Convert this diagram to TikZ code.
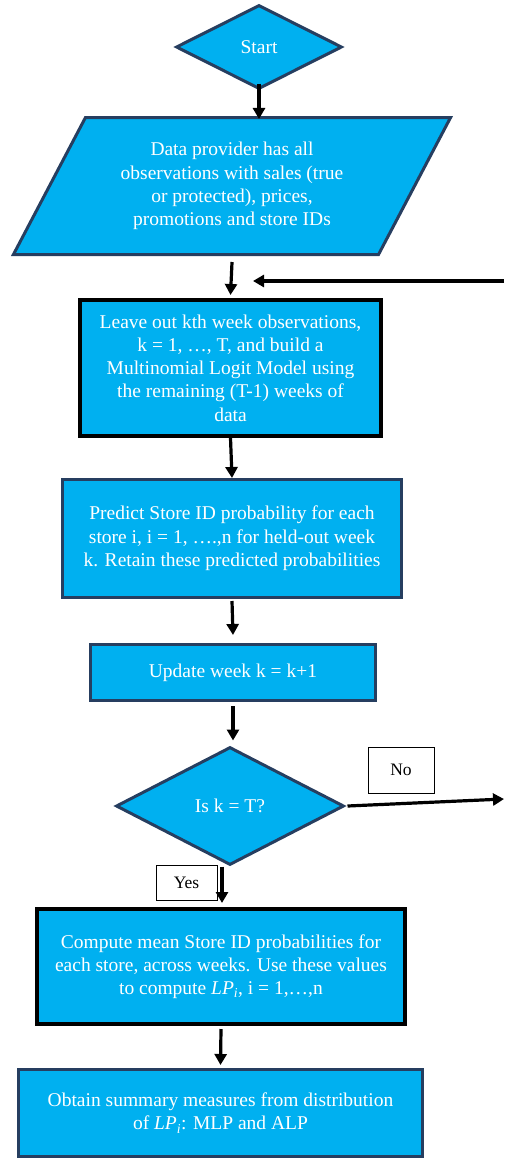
\documentclass[tikz,border=0pt]{standalone}
\usepackage{fontspec}
\setmainfont{Liberation Serif}
\usetikzlibrary{shapes.geometric,arrows.meta}
\definecolor{fillblue}{RGB}{0,176,240}
\definecolor{edgeblue}{RGB}{38,62,96}
\begin{document}
\begin{tikzpicture}[x=1pt,y=-1pt,
  base/.style={fill=fillblue,text=white,align=center,font=\fontsize{19.5}{23.3}\selectfont,inner sep=0pt},
  bluebox/.style={base,draw=edgeblue,line width=3pt,rectangle},
  blackbox/.style={base,draw=black,line width=4pt,rectangle},
  bluediamond/.style={base,draw=edgeblue,line width=3pt,diamond},
  tagbox/.style={draw=black,line width=0.8pt,fill=white,text=black,font=\fontsize{17.5}{20}\selectfont,inner sep=0pt,rectangle},
  flow/.style={line width=3.2pt,draw=black,-{Triangle[width=12pt,length=11pt]}}
]
\useasboundingbox (0,0) rectangle (504,1160);

\node[bluediamond,minimum width=166pt,minimum height=84pt] (start) at (259,47) {Start};
\node[base,draw=edgeblue,line width=3pt,trapezium,trapezium left angle=58,trapezium right angle=122,
      trapezium stretches=true,minimum width=438pt,minimum height=137pt] (data) at (232,186)
  {Data provider has all\\observations with sales (true\\or protected), prices,\\promotions and store IDs};
\node[blackbox,minimum width=301pt,minimum height=136pt] (leave) at (230.5,368)
  {Leave out kth week observations,\\k = 1, …, T, and build a\\Multinomial Logit Model using\\the remaining (T-1) weeks of\\data};
\node[bluebox,minimum width=339pt,minimum height=118pt] (predict) at (232,538.5)
  {Predict Store ID probability for each\\store i, i = 1, ….,n for held-out week\\k. Retain these predicted probabilities};
\node[bluebox,minimum width=285pt,minimum height=56pt] (update) at (233,672.5)
  {Update week k = k+1};
\node[bluediamond,minimum width=228pt,minimum height=118pt] (decide) at (230,806) {Is k = T?};
\node[blackbox,minimum width=368pt,minimum height=115pt] (compute) at (221,966.5)
  {Compute mean Store ID probabilities for\\each store, across weeks. Use these values\\to compute \textit{LP}\textsubscript{\textit{i}}, i = 1,…,n};
\node[bluebox,minimum width=404pt,minimum height=87pt] (obtain) at (220.5,1113)
  {Obtain summary measures from distribution\\of \textit{LP}\textsubscript{\textit{i}}: MLP and ALP};

\node[tagbox,minimum width=66pt,minimum height=46pt] (no) at (401,770) {No};
\node[tagbox,minimum width=61pt,minimum height=35pt] (yes) at (186.5,882.5) {Yes};

\coordinate (fbstart) at (504,281);
\coordinate (fbend) at (253,281);
\coordinate (noend) at (504,799);

\draw[flow] ([yshift=7pt]start.south) -- ([yshift=-3pt]start.south |- data.north);
\draw[flow] ([yshift=-6pt]data.south) -- ([yshift=3pt]leave.north);
\draw[flow] (fbstart) -- (fbend);
\draw[flow] (leave.south) -- (predict.north);
\draw[flow] ([yshift=-2pt]predict.south) -- ([yshift=8pt]update.north);
\draw[flow] ([yshift=-4pt]update.south) -- ([yshift=5pt]update.south |- decide.north);
\draw[flow] ([xshift=2pt]decide.east) -- (noend);
\draw[flow] ([xshift=-8pt]decide.south) -- ([xshift=-8pt,yshift=4pt]decide.south |- compute.north);
\draw[flow] ([yshift=-3pt]compute.south) -- ([yshift=3pt]obtain.north);
\end{tikzpicture}
\end{document}
